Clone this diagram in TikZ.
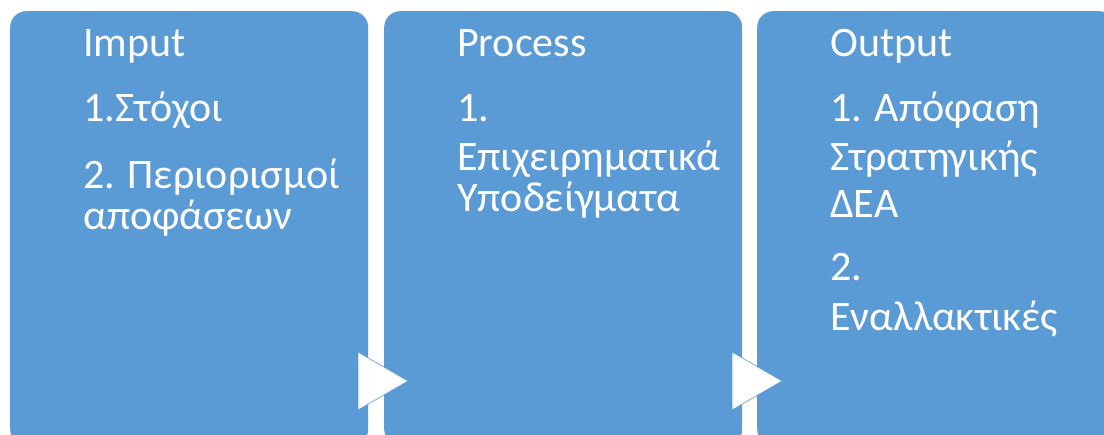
\documentclass[tikz,border=0pt]{standalone}
\usepackage{fontspec}
\setmainfont{Carlito}
\definecolor{boxblue}{HTML}{5B9BD5}
\tikzset{
  stagebox/.style={fill=boxblue, draw=none, rounded corners=16pt, minimum width=358pt, minimum height=434pt, anchor=north west, inner sep=0pt},
  txt/.style={text=white, anchor=base west, inner sep=0pt, font=\fontsize{42}{50}\selectfont},
  tri/.style={fill=white, draw=boxblue, line width=0.6pt, line join=miter}
}
\begin{document}
\begin{tikzpicture}[x=1pt,y=-1pt]
\useasboundingbox (0,0) rectangle (1104,435);
\clip (0,0) rectangle (1104,435);
\fill[white] (0,0) rectangle (1104,435);
\node[stagebox] (b1) at (10,11) {};
\node[stagebox] (b2) at (384,11) {};
\node[stagebox] (b3) at (757,11) {};
% arrows
\draw[tri] (358,352) -- (408,381) -- (358,410) -- cycle;
\draw[tri] (732,352) -- (782,381) -- (732,410) -- cycle;
% box 1 text
\node[txt] (t11) at (83,57) {Imput};
\node[txt] (t12) at (83,122) {1.Στόχοι};
\node[txt] (t13) at (83,189) {2. Περιορισμοί};
\node[txt] (t14) at (83,230) {αποφάσεων};
% box 2 text
\node[txt] (t21) at (457,57) {Process};
\node[txt] (t22) at (457,122) {1.};
\node[txt] (t23) at (457,171) {Επιχειρηματικά};
\node[txt] (t24) at (457,212) {Υποδείγματα};
% box 3 text
\node[txt] (t31) at (830,57) {Output};
\node[txt] (t32) at (830,122) {1. Απόφαση};
\node[txt] (t33) at (830,171) {Στρατηγικής};
\node[txt] (t34) at (830,218) {ΔΕΑ};
\node[txt] (t35) at (830,281) {2.};
\node[txt] (t36) at (830,331) {Εναλλακτικές};
\end{tikzpicture}
\end{document}
